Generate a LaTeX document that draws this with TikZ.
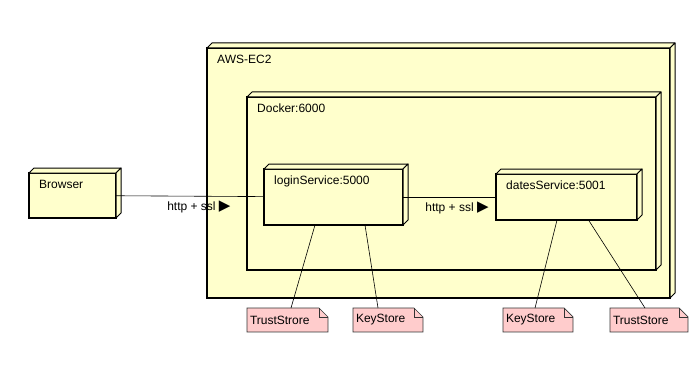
\documentclass[tikz,border=0pt]{standalone}
\usepackage{fontspec}
\setmainfont{Liberation Sans}
\newfontfamily\symbfont{DejaVu Sans}
\usepackage{xcolor}

\definecolor{nodeyellow}{RGB}{255,255,204}
\definecolor{notepink}{RGB}{255,204,204}

% top and right faces of a 3d node
\newcommand\depthband[1]{%
  \draw[band] (#1.north west) -- ++(5pt,5pt) -- ([shift={(5pt,5pt)}]#1.north east) -- (#1.north east) -- cycle;
  \draw[band] (#1.north east) -- ([shift={(5pt,5pt)}]#1.north east) -- ([shift={(5pt,5pt)}]#1.south east) -- (#1.south east) -- cycle;}

% note outline with folded corner
\newcommand\notefold[1]{%
  \fill[white] ([xshift=-9pt]#1.north east) -- (#1.north east) -- ([yshift=-9pt]#1.north east) -- cycle;
  \draw[noteline] (#1.north west) -- ([xshift=-9pt]#1.north east) -- ([yshift=-9pt]#1.north east) -- (#1.south east) -- (#1.south west) -- cycle;
  \draw[noteline] ([xshift=-9pt]#1.north east) |- ([yshift=-9pt]#1.north east);}

\begin{document}
\begin{tikzpicture}[x=1pt, y=-1pt, font=\fontsize{12}{14}\selectfont,
  device/.style={draw=black, fill=nodeyellow, line width=1.4pt, outer sep=0pt},
  devlabel/.style={anchor=north west, inner sep=0pt, xshift=10pt, yshift=-7pt},
  band/.style={draw=black, fill=nodeyellow, line width=1pt, line join=round},
  note/.style={fill=notepink, inner xsep=3pt, inner ysep=0pt, minimum height=24, outer sep=0pt, align=left},
  noteline/.style={draw=black!80, line width=.7pt},
  link/.style={draw=black, line width=.6pt}]
\useasboundingbox (0,0) rectangle (696,385);

\node[device, minimum width=463, minimum height=250, label={[devlabel]north west:AWS-EC2}] (ec2) at (438.5,173) {};
\depthband{ec2}
\node[device, minimum width=409, minimum height=173, label={[devlabel]north west:Docker:6000}] (docker) at (451.5,183.5) {};
\depthband{docker}
\node[device, minimum width=139, minimum height=56, label={[devlabel]north west:loginService:5000}] (login) at (333.5,197) {};
\depthband{login}
\node[device, minimum width=141, minimum height=46, label={[devlabel]north west:datesService:5001}] (dates) at (566.5,197) {};
\depthband{dates}
\node[device, minimum width=87, minimum height=45, label={[devlabel]north west:Browser}] (browser) at (72.5,195.5) {};
\depthband{browser}

\draw[link] (browser) -- node[pos=.56, below=1pt] {http + ssl {\symbfont\fontsize{15}{15}\selectfont ▶}} (login);
\draw[link] (login) -- node[pos=.58, below=1pt] {http + ssl {\symbfont\fontsize{15}{15}\selectfont ▶}} (dates);

\node[note, text width=75pt] (trust1) at (287.5,320) {TrustStrore};
\notefold{trust1}
\node[note, text width=64pt] (key1) at (388,320) {KeyStore};
\notefold{key1}
\node[note, text width=64pt] (key2) at (538,320) {KeyStore};
\notefold{key2}
\node[note, text width=72pt] (trust2) at (649,320) {TrustStore};
\notefold{trust2}

\draw[link] ([xshift=-18.5pt]login.south) -- ([xshift=3.5pt]trust1.north);
\draw[link] ([xshift=31.5pt]login.south) -- ([xshift=-10pt]key1.north);
\draw[link] ([xshift=-9.5pt]dates.south) -- ([xshift=-3pt]key2.north);
\draw[link] ([xshift=22pt]dates.south) -- ([xshift=-4pt]trust2.north);
\end{tikzpicture}
\end{document}
